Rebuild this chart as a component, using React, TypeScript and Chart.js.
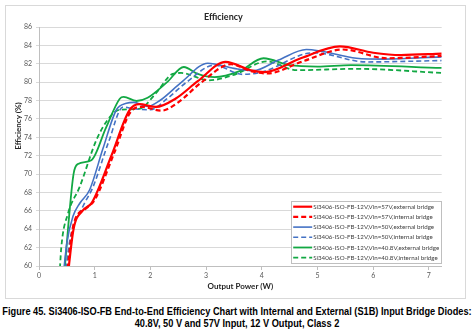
import React, { useEffect, useRef } from 'react';
import { Chart, registerables } from 'chart.js';

Chart.register(...registerables);

// ---- axis ticks ----
const powerTicks = [0, 1, 2, 3, 4, 5, 6, 7];
const effTicks = [60, 62, 64, 66, 68, 70, 72, 74, 76, 78, 80, 82, 84, 86];

// ---- series labels ----
const seriesLabels = [
  'Si3406-ISO-FB-12V,Vin=57V,external bridge',
  'Si3406-ISO-FB-12V,Vin=57V,internal bridge',
  'Si3406-ISO-FB-12V,Vin=50V,external bridge',
  'Si3406-ISO-FB-12V,Vin=50V,internal bridge',
  'Si3406-ISO-FB-12V,Vin=40.8V,external bridge',
  'Si3406-ISO-FB-12V,Vin=40.8V,internal bridge',
];

// ---- series values (output power W, efficiency %) ----
const p57Ext = [0.50, 0.62, 0.78, 0.95, 1.30, 1.62, 1.80, 2.10, 2.45, 2.85, 3.35, 3.80, 4.05, 4.70, 5.40, 6.00, 6.50, 7.23];
const e57Ext = [58.0, 64.0, 66.0, 66.9, 72.0, 76.9, 77.6, 77.3, 78.2, 80.1, 82.2, 81.3, 81.1, 82.6, 83.9, 83.2, 82.95, 83.1];

const p57Int = [0.48, 0.62, 0.85, 1.00, 1.35, 1.65, 1.85, 2.20, 2.50, 2.90, 3.45, 3.80, 4.10, 4.75, 5.46, 6.24, 7.23];
const e57Int = [58.0, 64.5, 66.3, 67.2, 72.3, 76.8, 77.3, 76.9, 77.8, 79.9, 81.95, 81.2, 80.95, 82.3, 83.55, 82.6, 82.85];

const p50Ext = [0.42, 0.50, 0.61, 0.73, 0.91, 1.15, 1.39, 1.57, 1.70, 1.95, 2.17, 2.56, 3.03, 3.50, 3.85, 4.30, 4.80, 5.70, 6.20, 7.23];
const e50Ext = [58.0, 62.5, 65.4, 66.8, 68.3, 72.8, 77.0, 77.7, 77.8, 77.35, 78.0, 80.0, 82.05, 81.5, 81.25, 82.4, 83.55, 82.6, 82.5, 82.75];

const p50Int = [0.45, 0.56, 0.79, 0.97, 1.25, 1.51, 1.70, 2.00, 2.30, 2.65, 3.15, 3.65, 4.00, 4.93, 5.88, 7.23];
const e50Int = [58.0, 63.0, 66.5, 68.6, 73.5, 77.3, 77.1, 77.0, 78.2, 80.0, 81.85, 80.85, 81.1, 83.2, 82.2, 82.35];

const p40Ext = [0.44, 0.52, 0.62, 0.70, 0.94, 1.20, 1.45, 1.52, 1.75, 1.95, 2.30, 2.60, 2.85, 3.15, 3.60, 4.03, 4.50, 5.00, 5.60, 7.23];
const e40Ext = [58.0, 64.0, 70.0, 71.1, 71.5, 75.0, 78.2, 78.4, 77.95, 78.3, 80.0, 81.65, 80.9, 80.55, 81.2, 82.6, 81.85, 81.7, 81.85, 81.55];

const p40Int = [0.36, 0.40, 0.52, 0.73, 1.03, 1.27, 1.45, 1.80, 2.10, 2.40, 2.55, 3.05, 3.50, 4.09, 4.63, 5.70, 7.23];
const e40Int = [58.0, 62.0, 65.7, 68.6, 73.7, 76.2, 77.0, 77.1, 78.8, 80.9, 81.0, 80.2, 80.8, 82.25, 81.3, 81.45, 81.0];

const RED = '#FF0000';
const BLUE = '#4472C4';
const GREEN = '#12A843';
const FONT = 'Lato, "Noto Sans", sans-serif';

const toPts = (xs: number[], ys: number[]) => xs.map((x, i) => ({ x, y: ys[i] }));

const legendPlugin = {
  id: 'insideLegend',
  afterDraw(chart: any) {
    const ctx = chart.ctx as CanvasRenderingContext2D;
    const ca = chart.chartArea;
    const right = ca.right;
    const left = right - 150.5;
    const top = 196;
    const bottom = 258;
    ctx.save();
    ctx.fillStyle = '#FFFFFF';
    ctx.fillRect(left, top, right - left, bottom - top);
    ctx.strokeStyle = '#BFBFBF';
    ctx.lineWidth = 1;
    ctx.strokeRect(Math.round(left) + 0.5, top + 0.5, Math.round(right - left) - 1, bottom - top);
    chart.data.datasets.forEach((ds: any, i: number) => {
      const cy = 201.7 + 10.2 * i;
      ctx.strokeStyle = ds.borderColor;
      ctx.lineWidth = ds.borderWidth;
      ctx.setLineDash(ds.borderDash || []);
      ctx.beginPath();
      ctx.moveTo(left + 2, cy);
      ctx.lineTo(left + 21, cy);
      ctx.stroke();
      ctx.setLineDash([]);
      ctx.save();
      ctx.translate(left + 22, cy);
      ctx.scale(0.95, 1);
      ctx.fillStyle = '#404040';
      ctx.font = `6.5px ${FONT}`;
      ctx.textBaseline = 'middle';
      ctx.textAlign = 'left';
      ctx.fillText(ds.label, 0, 0);
      ctx.restore();
    });
    ctx.restore();
  },
};

const yTitlePlugin = {
  id: 'yTitle',
  afterDraw(chart: any) {
    const ctx = chart.ctx as CanvasRenderingContext2D;
    ctx.save();
    ctx.translate(13, 121);
    ctx.rotate(-Math.PI / 2);
    ctx.font = `bold 8px ${FONT}`;
    ctx.fillStyle = '#262626';
    ctx.textAlign = 'center';
    ctx.textBaseline = 'middle';
    ctx.fillText('Efficiency (%)', 0, 0);
    ctx.restore();
  },
};

export default function App() {
  const canvasRef = useRef<HTMLCanvasElement | null>(null);

  useEffect(() => {
    document.body.style.margin = '0';
    const canvas = canvasRef.current;
    if (!canvas) return;
    const mk = (i: number, xs: number[], ys: number[], color: string, width: number, dashed: boolean) => ({
      label: seriesLabels[i],
      data: toPts(xs, ys),
      borderColor: color,
      backgroundColor: color,
      borderWidth: width,
      borderDash: dashed ? [5, 3] : [],
      pointRadius: 0,
      fill: false,
      tension: 0.4,
      cubicInterpolationMode: 'monotone',
      clip: 0,
    });
    const chart = new Chart(canvas, {
      type: 'line',
      data: {
        datasets: [
          mk(0, p57Ext, e57Ext, RED, 2.2, false),
          mk(1, p57Int, e57Int, RED, 2.2, true),
          mk(2, p50Ext, e50Ext, BLUE, 1.6, false),
          mk(3, p50Int, e50Int, BLUE, 1.6, true),
          mk(4, p40Ext, e40Ext, GREEN, 1.8, false),
          mk(5, p40Int, e40Int, GREEN, 1.8, true),
        ] as any,
      },
      options: {
        animation: false,
        responsive: false,
        maintainAspectRatio: false,
        layout: { padding: { left: 0, right: 24.3, top: 0, bottom: 0 } },
        plugins: {
          legend: { display: false },
          tooltip: { enabled: false },
          title: {
            display: true,
            text: 'Efficiency',
            font: { family: FONT, size: 9, weight: 'bold' },
            color: '#262626',
            padding: { top: 6.6, bottom: 4.6 },
          },
        },
        scales: {
          x: {
            type: 'linear',
            min: 0,
            max: 7.23,
            afterBuildTicks: (s: any) => {
              s.ticks = powerTicks.map((v) => ({ value: v }));
            },
            afterFit: (s: any) => {
              s.height = 33;
            },
            grid: { display: true, drawOnChartArea: false, drawTicks: true, tickLength: 4, color: '#BFBFBF' },
            border: { display: true, color: '#BFBFBF' },
            ticks: { padding: 1.5, font: { family: FONT, size: 7 }, color: '#595959', maxRotation: 0, autoSkip: false },
            title: {
              display: true,
              text: 'Output Power (W)',
              font: { family: FONT, size: 8, weight: 'bold' },
              color: '#262626',
              padding: { top: 0, bottom: 8.2 },
            },
          },
          y: {
            type: 'linear',
            min: 60,
            max: 86,
            afterBuildTicks: (s: any) => {
              s.ticks = effTicks.map((v) => ({ value: v }));
            },
            afterFit: (s: any) => {
              s.width = 34;
            },
            grid: { color: '#D9D9D9', tickLength: 3 },
            border: { display: true, color: '#BFBFBF' },
            ticks: { padding: 4, font: { family: FONT, size: 7 }, color: '#595959', autoSkip: false },
          },
        },
      } as any,
      plugins: [legendPlugin, yTitlePlugin],
    });
    return () => chart.destroy();
  }, []);

  return (
    <div style={{ position: 'relative', width: 474, height: 333, background: '#fff', overflow: 'hidden' }}>
      <div
        style={{
          position: 'absolute',
          left: 5,
          top: 5,
          width: 461,
          height: 294,
          boxSizing: 'border-box',
          border: '1px solid #D9D9D9',
        }}
      />
      <canvas ref={canvasRef} width={461} height={294} style={{ position: 'absolute', left: 5, top: 5, width: 461, height: 294 }} />
      <div
        style={{
          position: 'absolute',
          left: 0,
          top: 305.5,
          width: 474,
          textAlign: 'center',
          fontFamily: '"Liberation Sans", Arial, sans-serif',
          fontWeight: 'bold',
          fontSize: 10,
          lineHeight: '12.3px',
          color: '#000',
          whiteSpace: 'nowrap',
          transform: 'scaleX(0.922)',
          transformOrigin: '237px 0',
        }}
      >
        <div style={{ marginLeft: -40, marginRight: -40 }}>
          Figure 45. Si3406-ISO-FB End-to-End Efficiency Chart with Internal and External (S1B) Input Bridge Diodes:
        </div>
        <div>40.8V, 50 V and 57V Input, 12 V Output, Class 2</div>
      </div>
    </div>
  );
}
